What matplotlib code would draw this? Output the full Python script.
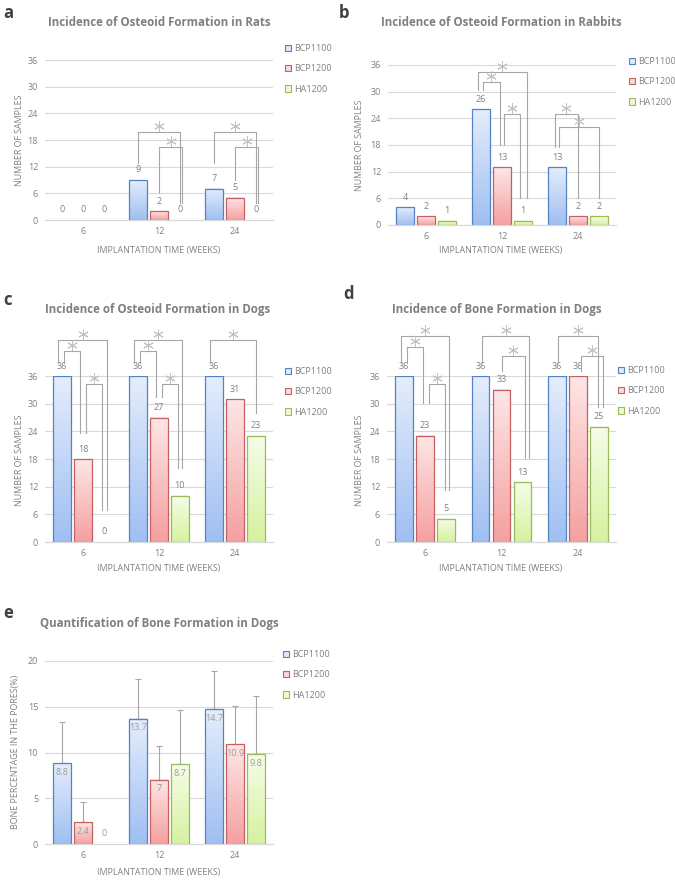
import numpy as np
import matplotlib
matplotlib.use("Agg")
import matplotlib.pyplot as plt
import matplotlib.transforms as mtransforms
from matplotlib.patches import Patch
from matplotlib.colors import LinearSegmentedColormap

plt.rcParams['font.family'] = ['Open Sans', 'DejaVu Sans']

# Dados
weeks = ['6', '12', '24']
series = ['BCP1100', 'BCP1200', 'HA1200']

rats_bcp1100 = [0, 9, 7]
rats_bcp1200 = [0, 2, 5]
rats_ha1200 = [0, 0, 0]

rabbits_bcp1100 = [4, 26, 13]
rabbits_bcp1200 = [2, 13, 2]
rabbits_ha1200 = [1, 1, 2]

dogs_osteoid_bcp1100 = [36, 36, 36]
dogs_osteoid_bcp1200 = [18, 27, 31]
dogs_osteoid_ha1200 = [0, 10, 23]

dogs_bone_bcp1100 = [36, 36, 36]
dogs_bone_bcp1200 = [23, 33, 36]
dogs_bone_ha1200 = [5, 13, 25]

quant_bcp1100 = [8.8, 13.7, 14.7]
quant_bcp1200 = [2.4, 7, 10.9]
quant_ha1200 = [0, 8.7, 9.8]
quant_err_bcp1100 = [4.5, 4.3, 4.2]
quant_err_bcp1200 = [2.2, 3.7, 4.2]
quant_err_ha1200 = [0, 5.9, 6.4]

# colchetes de significancia: (semana, serie a, serie b, topo, base a, base b, dx a, dx b)
rats_sig = [(1, 0, 2, 19.8, 12.8, 3.8, 0, 0), (1, 1, 2, 16.4, 6.1, 3.8, 0, 0.03),
            (2, 0, 2, 19.8, 12.8, 3.8, 0, 0), (2, 1, 2, 16.4, 9.0, 3.8, 0, 0.03)]
rabbits_sig = [(1, 0, 2, 34.4, 30.3, 6.1, -0.04, 0.05), (1, 0, 1, 32.1, 30.3, 18, 0.02, -0.03),
               (1, 1, 2, 24.9, 18, 6.1, 0.03, -0.04), (2, 0, 1, 24.9, 17.5, 6.1, -0.03, 0),
               (2, 0, 2, 22.0, 17.5, 6.1, 0.03, 0)]
dogs_osteoid_sig = [(0, 0, 2, 43.8, 38.8, 6.9, -0.05, 0.04), (0, 0, 1, 41.4, 38.8, 23.6, 0.03, -0.04),
                    (0, 1, 2, 34.3, 23.6, 6.9, 0.04, -0.03), (1, 0, 2, 43.8, 38.8, 16, -0.05, 0.03),
                    (1, 0, 1, 41.4, 38.8, 31.5, 0.03, -0.04), (1, 1, 2, 34.3, 31.5, 16, 0.04, -0.02),
                    (2, 0, 2, 43.8, 38.8, 28, -0.05, 0)]
dogs_bone_sig = [(0, 0, 2, 44.7, 38.8, 11.3, -0.04, 0.04), (0, 0, 1, 42.3, 38.8, 30.2, 0.04, -0.03),
                 (0, 1, 2, 34.3, 30.2, 11.3, 0.05, -0.01), (1, 0, 2, 44.7, 38.8, 18.2, 0.02, 0.09),
                 (1, 1, 2, 40.3, 37.1, 18.2, 0.01, 0.03), (2, 0, 2, 44.7, 38.8, 29.3, 0.02, -0.01),
                 (2, 1, 2, 40.3, 37.1, 29.3, 0.04, 0.05)]

# Estilo
GREY = '#808080'
GRID = '#d9d9d9'
LINE = '#a6a6a6'
edges = ['#5582c2', '#c46060', '#9bbb59']
tops = ['#e4edfc', '#fde6e6', '#f6fde8']
bottoms = ['#9fbff2', '#f5a0a0', '#d5f2a0']
legfill = ['#dde8fa', '#fbd9d9', '#eef9d8']
STEP = 0.274
WIDTH = 0.232

W, H = 675, 882
fig = plt.figure(figsize=(W / 100, H / 100), dpi=100)


def fx(px):
    return px / W


def fy(py):
    return 1 - py / H


def eixo(left, right, top, bottom):
    return fig.add_axes([fx(left), fy(bottom), (right - left) / W, (bottom - top) / H])


def barras(ax, valores):
    centros = []
    for k, vals in enumerate(valores):
        x = np.arange(len(weeks)) + (k - 1) * STEP
        cont = ax.bar(x, vals, WIDTH, facecolor='none', edgecolor=edges[k], linewidth=0.9, zorder=2)
        cmap = LinearSegmentedColormap.from_list('g%d' % k, [bottoms[k], tops[k]])
        grad = np.linspace(0, 1, 64).reshape(-1, 1)
        cs = []
        for p in cont.patches:
            h = p.get_height()
            cs.append(p.get_x() + p.get_width() / 2)
            if h <= 0:
                p.set_visible(False)
                continue
            ax.imshow(grad, extent=(p.get_x(), p.get_x() + p.get_width(), 0, h), origin='lower',
                      aspect='auto', cmap=cmap, zorder=1)
        centros.append(cs)
    return centros


def estilo(ax, ymax, ystep, legx, legy):
    ax.set_xlim(-0.5, 2.5)
    ax.set_ylim(0, ymax)
    ax.set_yticks(np.arange(0, ymax + 0.1, ystep))
    ax.set_xticks(range(len(weeks)))
    ax.set_xticklabels(weeks)
    for s in ['top', 'right', 'left']:
        ax.spines[s].set_visible(False)
    ax.spines['bottom'].set_color(GRID)
    ax.spines['bottom'].set_linewidth(0.9)
    ax.yaxis.grid(True, color=GRID, linewidth=0.8)
    ax.set_axisbelow(True)
    ax.tick_params(axis='both', length=0, labelsize=6.5, colors=GREY)
    ax.tick_params(axis='x', pad=5)
    ax.tick_params(axis='y', pad=5)
    handles = [Patch(facecolor=legfill[k], edgecolor=edges[k], linewidth=0.8) for k in range(3)]
    leg = ax.legend(handles, series, loc='upper left', bbox_to_anchor=(fx(legx), fy(legy)),
                    bbox_transform=fig.transFigure, frameon=False, fontsize=6.5,
                    handlelength=0.7, handleheight=0.7, handletextpad=0.35,
                    labelspacing=1.25, borderpad=0, borderaxespad=0)
    for t in leg.get_texts():
        t.set_color(GREY)


def rotulos_acima(ax, valores, centros):
    for k, vals in enumerate(valores):
        for xc, v in zip(centros[k], vals):
            ax.annotate(f"{v:g}", (xc, v), xytext=(0, 10), textcoords='offset pixels',
                        ha='center', va='center', fontsize=6.5, color=GREY)


def colchetes(ax, sig):
    estrela = mtransforms.offset_copy(ax.transData, fig=fig, x=0, y=6, units='dots')
    for wk, a, b, topo, ya, yb, dxa, dxb in sig:
        xa = wk + (a - 1) * STEP + dxa
        xb = wk + (b - 1) * STEP + dxb
        ax.plot([xa, xa, xb, xb], [ya, topo, topo, yb], color=LINE, linewidth=0.8,
                clip_on=False, zorder=3)
        ax.plot([(xa + xb) / 2], [topo], linestyle='none', marker=(6, 2, 0), markersize=7.5,
                markeredgewidth=0.7, color='#c2c2c2', transform=estrela, clip_on=False, zorder=3)


def textos(letra, lx, ly, titulo, tx, ty, ylab, yx, yy, xlab_x, xlab_y):
    fig.text(fx(lx), fy(ly), letra, fontsize=12, fontweight='bold', color='#404040',
             ha='left', va='center')
    fig.text(fx(tx), fy(ty), titulo, fontsize=8.3, fontweight='bold', color='#7f7f7f',
             ha='center', va='center')
    fig.text(fx(yx), fy(yy), ylab, fontsize=6.4, color=GREY, rotation=90,
             ha='center', va='center')
    fig.text(fx(xlab_x), fy(xlab_y), 'IMPLANTATION TIME (WEEKS)', fontsize=6.4, color=GREY,
             ha='center', va='center')


# a - ratos
ax = eixo(45, 273, 60, 220)
vals = [rats_bcp1100, rats_bcp1200, rats_ha1200]
c = barras(ax, vals)
estilo(ax, 36, 6, 285, 44)
rotulos_acima(ax, vals, c)
colchetes(ax, rats_sig)
textos('a', 3, 13, 'Incidence of Osteoid Formation in Rats', 159, 22,
       'NUMBER OF SAMPLES', 20, 140, 159, 250)

# b - coelhos
ax = eixo(388, 616, 65, 225)
vals = [rabbits_bcp1100, rabbits_bcp1200, rabbits_ha1200]
c = barras(ax, vals)
estilo(ax, 36, 6, 629, 57)
rotulos_acima(ax, vals, c)
colchetes(ax, rabbits_sig)
textos('b', 339, 13, 'Incidence of Osteoid Formation in Rabbits', 501, 22,
       'NUMBER OF SAMPLES', 360, 145, 501, 250)

# c - caes osteoide
ax = eixo(45, 273, 376, 542)
vals = [dogs_osteoid_bcp1100, dogs_osteoid_bcp1200, dogs_osteoid_ha1200]
c = barras(ax, vals)
estilo(ax, 36, 6, 285, 367)
rotulos_acima(ax, vals, c)
colchetes(ax, dogs_osteoid_sig)
textos('c', 3, 300, 'Incidence of Osteoid Formation in Dogs', 158, 310,
       'NUMBER OF SAMPLES', 20, 460, 159, 568)

# d - caes osso
ax = eixo(387, 616, 376, 542)
vals = [dogs_bone_bcp1100, dogs_bone_bcp1200, dogs_bone_ha1200]
c = barras(ax, vals)
estilo(ax, 36, 6, 618, 366)
rotulos_acima(ax, vals, c)
colchetes(ax, dogs_bone_sig)
textos('d', 343, 294, 'Incidence of Bone Formation in Dogs', 497, 310,
       'NUMBER OF SAMPLES', 360, 460, 501, 568)

# e - quantificacao
ax = eixo(45, 273, 661, 844)
vals = [quant_bcp1100, quant_bcp1200, quant_ha1200]
errs = [quant_err_bcp1100, quant_err_bcp1200, quant_err_ha1200]
c = barras(ax, vals)
estilo(ax, 20, 5, 283, 650)
for k in range(3):
    xs = np.array(c[k])
    v = np.array(vals[k])
    e = np.array(errs[k])
    m = e > 0
    ax.errorbar(xs[m], v[m], yerr=[np.zeros(m.sum()), e[m]], fmt='none', ecolor=LINE,
                elinewidth=0.8, capsize=2.5, capthick=0.8, zorder=1.5)
    for xc, val in zip(xs, v):
        off = -9 if val > 0 else 10
        ax.annotate(f"{val:g}", (xc, val), xytext=(0, off), textcoords='offset pixels',
                    ha='center', va='center', fontsize=6.5, color='#9a9a9a', zorder=4)
textos('e', 3, 613, 'Quantification of Bone Formation in Dogs', 159, 623,
       'BONE PERCENTAGE IN THE PORES(%)', 16, 752, 159, 873)

fig.savefig('out.png', dpi=100, facecolor='white')
plt.close(fig)
